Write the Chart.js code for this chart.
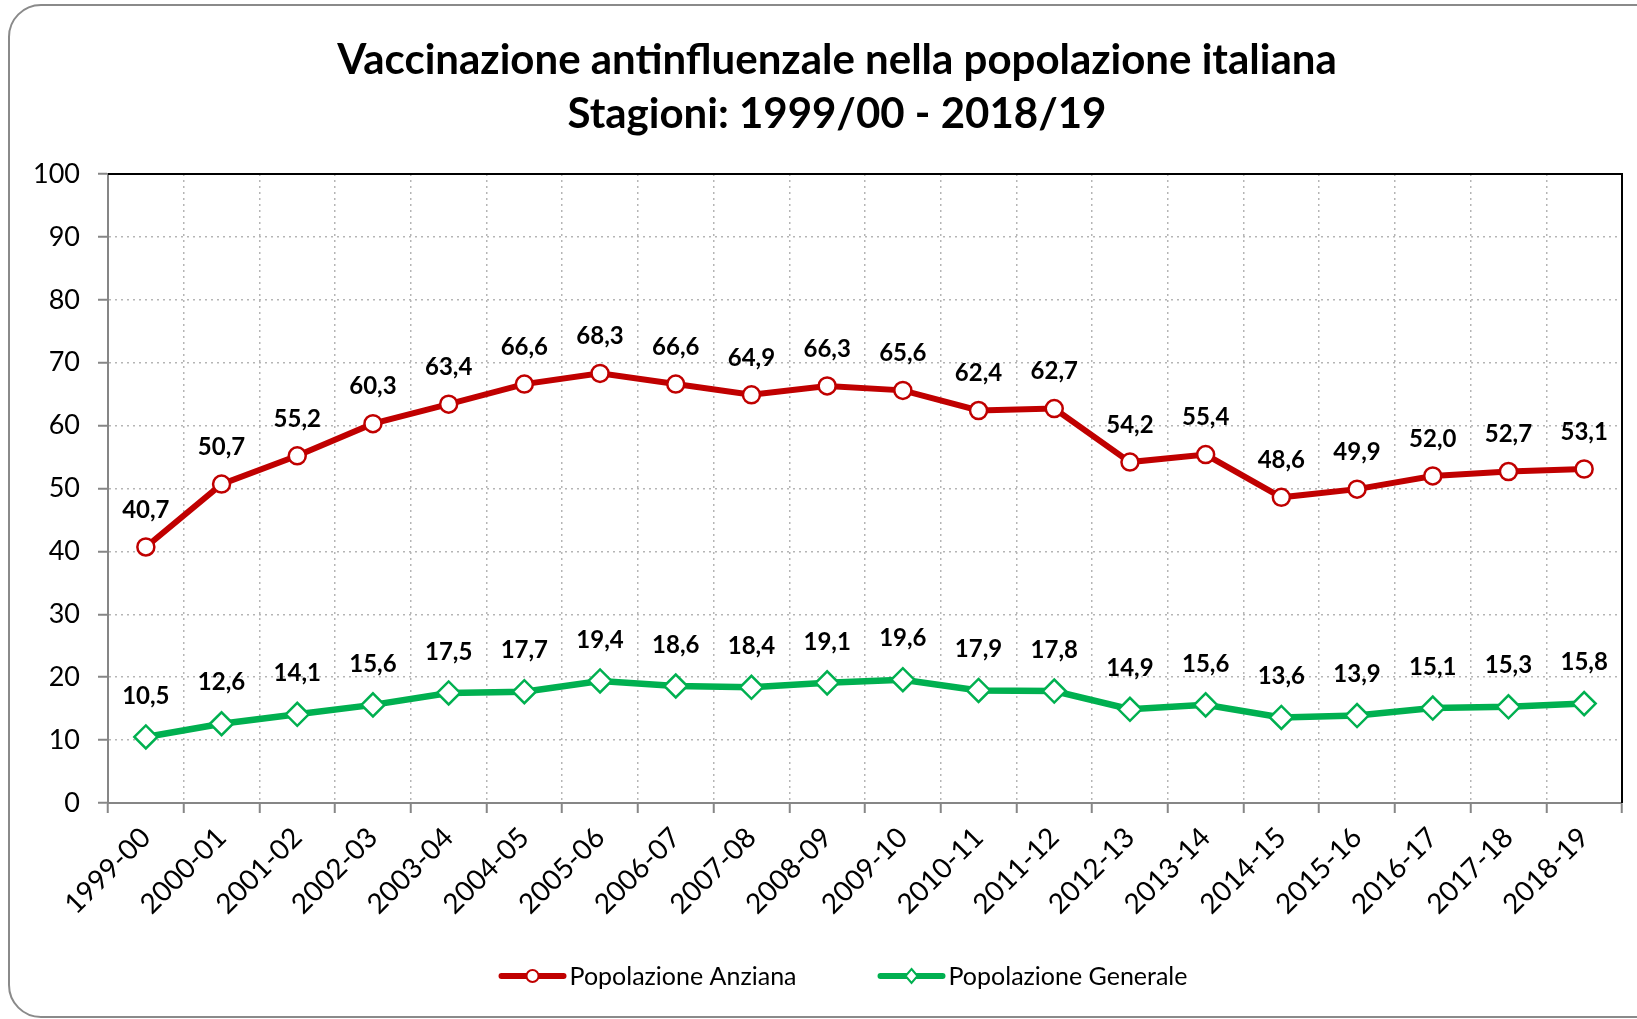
<!DOCTYPE html>
<html>
<head>
<meta charset="utf-8">
<title>Vaccinazione antinfluenzale</title>
<script src="https://cdn.jsdelivr.net/npm/chart.js@4"></script>
<style>
body { margin: 0; background: #fff; }
canvas { display: block; }
</style>
</head>
<body>
<canvas id="chart" width="1637" height="1019"></canvas>
<script>
var stagioni = ['1999-00', '2000-01', '2001-02', '2002-03', '2003-04', '2004-05', '2005-06', '2006-07', '2007-08', '2008-09',
    '2009-10', '2010-11', '2011-12', '2012-13', '2013-14', '2014-15', '2015-16', '2016-17', '2017-18', '2018-19'];
var anziana = [40.7, 50.7, 55.2, 60.3, 63.4, 66.6, 68.3, 66.6, 64.9, 66.3, 65.6, 62.4, 62.7, 54.2, 55.4, 48.6, 49.9, 52.0, 52.7, 53.1];
var generale = [10.5, 12.6, 14.1, 15.6, 17.5, 17.7, 19.4, 18.6, 18.4, 19.1, 19.6, 17.9, 17.8, 14.9, 15.6, 13.6, 13.9, 15.1, 15.3, 15.8];
var yMin = 0, yMax = 100, yStep = 10;
var titolo = ['Vaccinazione antinfluenzale nella popolazione italiana', 'Stagioni: 1999/00 - 2018/19'];

var FONT = 'Lato, "Open Sans", sans-serif';
var ROSSO = '#C00000';
var VERDE = '#00B050';

function fmt(v) {
    return v.toFixed(1).replace('.', ',');
}

// rounded frame + title (title is centred on the Excel chart box, not the canvas)
var framePlugin = {
    id: 'frame',
    beforeDraw: function (chart) {
        var ctx = chart.ctx;
        ctx.save();
        ctx.fillStyle = '#fff';
        ctx.fillRect(0, 0, chart.width, chart.height);
        ctx.strokeStyle = '#8a8a8a';
        ctx.lineWidth = 2;
        ctx.beginPath();
        ctx.roundRect(9, 5, chart.width + 40, 1012, 32);
        ctx.stroke();

        ctx.fillStyle = '#000';
        ctx.font = 'bold 42px ' + FONT;
        ctx.textAlign = 'center';
        ctx.textBaseline = 'middle';
        titolo.forEach(function (riga, i) {
            ctx.fillText(riga, 837, 60 + i * 54);
        });
        ctx.restore();
    }
};

// black top/right edges of the plot area
var plotBorderPlugin = {
    id: 'plotBorder',
    beforeDatasetsDraw: function (chart) {
        var a = chart.chartArea, ctx = chart.ctx;
        ctx.save();
        ctx.strokeStyle = '#000';
        ctx.lineWidth = 2;
        ctx.beginPath();
        ctx.moveTo(a.left, a.top);
        ctx.lineTo(a.right, a.top);
        ctx.lineTo(a.right, a.bottom);
        ctx.stroke();
        ctx.restore();
    }
};

var valueLabelsPlugin = {
    id: 'valueLabels',
    afterDatasetsDraw: function (chart) {
        var ctx = chart.ctx;
        ctx.save();
        ctx.font = 'bold 24px ' + FONT;
        ctx.fillStyle = '#000';
        ctx.textAlign = 'center';
        ctx.textBaseline = 'middle';
        chart.data.datasets.forEach(function (ds, di) {
            var meta = chart.getDatasetMeta(di);
            var off = ds.labelOffset;
            meta.data.forEach(function (pt, i) {
                ctx.fillText(fmt(ds.data[i]), pt.x, pt.y - off);
            });
        });
        ctx.restore();
    }
};

var legendPlugin = {
    id: 'customLegend',
    afterDraw: function (chart) {
        var ctx = chart.ctx;
        var y = 976, lineLen = 68, gap = 3, spacing = 81, centerX = 843;
        ctx.save();
        ctx.font = '25px ' + FONT;
        ctx.textBaseline = 'middle';
        var widths = chart.data.datasets.map(function (ds) {
            return lineLen + gap + ctx.measureText(ds.label).width;
        });
        var total = widths.reduce(function (a, b) { return a + b; }, 0) + spacing * (widths.length - 1);
        var x = centerX - total / 2;
        chart.data.datasets.forEach(function (ds, i) {
            var cx = x + lineLen / 2;
            ctx.strokeStyle = ds.borderColor;
            ctx.lineWidth = 6;
            ctx.lineCap = 'round';
            ctx.beginPath();
            ctx.moveTo(x + 3, y);
            ctx.lineTo(x + lineLen - 3, y);
            ctx.stroke();
            ctx.fillStyle = '#fff';
            ctx.lineWidth = 2;
            ctx.beginPath();
            if (ds.pointStyle === 'circle') {
                ctx.arc(cx, y, 6, 0, Math.PI * 2);
            } else {
                ctx.moveTo(cx, y - 7);
                ctx.lineTo(cx + 6, y);
                ctx.lineTo(cx, y + 7);
                ctx.lineTo(cx - 6, y);
                ctx.closePath();
            }
            ctx.fill();
            ctx.stroke();
            ctx.fillStyle = '#000';
            ctx.textAlign = 'left';
            ctx.fillText(ds.label, x + lineLen + gap, y + 1);
            x += widths[i] + spacing;
        });
        ctx.restore();
    }
};

var ctx = document.getElementById('chart').getContext('2d');
var chart = new Chart(ctx, {
    type: 'line',
    data: {
        labels: stagioni,
        datasets: [{
            label: 'Popolazione Anziana',
            data: anziana,
            borderColor: ROSSO,
            borderWidth: 6,
            pointStyle: 'circle',
            pointRadius: 8.5,
            pointBorderWidth: 2.5,
            pointBackgroundColor: '#fff',
            pointBorderColor: ROSSO,
            labelOffset: 37,
            tension: 0
        }, {
            label: 'Popolazione Generale',
            data: generale,
            borderColor: VERDE,
            borderWidth: 6.5,
            pointStyle: 'rectRot',
            pointRadius: 11.5,
            pointBorderWidth: 2.5,
            pointBackgroundColor: '#fff',
            pointBorderColor: VERDE,
            labelOffset: 41,
            tension: 0
        }]
    },
    options: {
        responsive: false,
        animation: false,
        layout: { padding: { left: 20, right: 15, top: 174, bottom: 0 } },
        plugins: {
            legend: { display: false },
            tooltip: { enabled: false },
            title: { display: false }
        },
        scales: {
            x: {
                offset: true,
                grid: {
                    offset: true,
                    color: '#b5b5b5',
                    lineWidth: 1.5,
                    drawTicks: true,
                    tickLength: 10,
                    tickColor: '#868686',
                    tickWidth: 2
                },
                border: { display: true, color: '#868686', width: 2, dash: [2, 4] },
                ticks: {
                    color: '#000',
                    font: { family: FONT, size: 28 },
                    minRotation: 45,
                    maxRotation: 45,
                    padding: 8,
                    autoSkip: false
                },
                afterFit: function (scale) { scale.height = 216; }
            },
            y: {
                min: yMin,
                max: yMax,
                grid: {
                    color: '#b5b5b5',
                    lineWidth: 1.5,
                    drawTicks: true,
                    tickLength: 10,
                    tickColor: '#868686',
                    tickWidth: 2
                },
                border: { display: true, color: '#868686', width: 2, dash: [2, 4] },
                ticks: {
                    stepSize: yStep,
                    color: '#000',
                    font: { family: FONT, size: 27 },
                    padding: 18
                },
                afterFit: function (scale) { scale.width = 88; }
            }
        }
    },
    plugins: [framePlugin, plotBorderPlugin, valueLabelsPlugin, legendPlugin]
});
</script>
</body>
</html>
